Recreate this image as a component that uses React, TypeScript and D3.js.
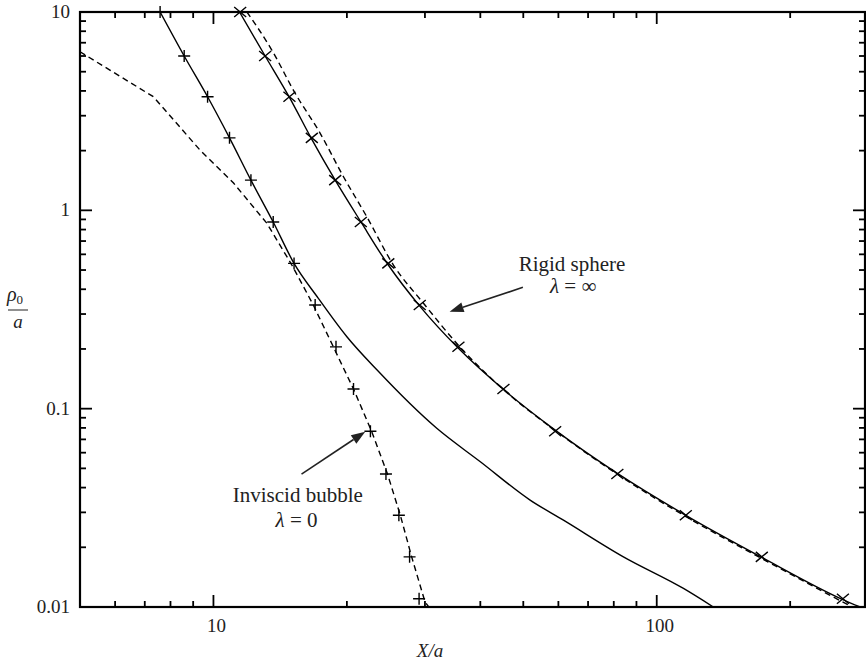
import * as d3 from "d3";
import React from "react";

// rho_0/a against X/a, log-log
const markerRho = [10, 6.0, 3.74, 2.32, 1.42, 0.873, 0.54, 0.333, 0.205, 0.1256, 0.077, 0.0468, 0.029, 0.0179, 0.011];

// inviscid bubble, symbols (+)
const bubbleSymX = [7.58, 8.59, 9.7, 10.87, 12.15, 13.64, 15.2, 16.96, 18.9, 20.7, 22.6, 24.5, 26.2, 27.7, 29.1];

// rigid sphere, symbols (x)
const sphereSymX = [11.49, 13.08, 14.84, 16.67, 18.82, 21.5, 24.8, 29.2, 35.7, 45.1, 59.0, 81.5, 116.3, 172.6, 263];

// solid curve, left family
const solidAX = [7.58, 8.59, 9.7, 10.87, 12.15, 13.64, 15.2, 17.23, 20.0, 23.4, 31.9, 40.0, 51.8, 61.6, 84.1, 114.9, 134.2];
const solidAY = [10, 6.0, 3.74, 2.32, 1.42, 0.873, 0.54, 0.361, 0.2305, 0.1565, 0.0796, 0.054, 0.0346, 0.0274, 0.0179, 0.0124, 0.01];

// dashed curve, left family
const dashedBX = [5.0, 7.32, 9.33, 11.1, 13.2, 15.03, 16.8, 18.8, 20.7, 22.76, 24.7, 26.4, 28.0, 30.0, 30.6];
const dashedBY = [6.3, 3.74, 2.01, 1.373, 0.86, 0.53, 0.333, 0.197, 0.1256, 0.0765, 0.0468, 0.029, 0.0179, 0.01063, 0.01];

// solid curve through rigid sphere symbols
const solidDX = [11.45, 13.08, 14.84, 16.67, 18.82, 21.5, 24.8, 29.2, 35.7, 45.1, 59.0, 81.5, 116.3, 172.6, 263, 287.6];
const solidDY = [10, 6.0, 3.71, 2.28, 1.42, 0.876, 0.53, 0.329, 0.2015, 0.125, 0.078, 0.0472, 0.029, 0.0178, 0.0109, 0.01];

// dashed curve next to the rigid sphere
const dashedEX = [11.9, 13.54, 15.29, 17.41, 19.65, 22.18, 25.47, 29.77, 36.0, 45.5, 59.6, 82.7, 117.8, 174.7, 275.8];
const dashedEY = [10, 6.43, 3.89, 2.445, 1.477, 0.928, 0.53, 0.34, 0.2044, 0.1227, 0.0764, 0.0457, 0.0281, 0.0173, 0.01];

const xMajor = [10, 100];
const xTickLabels = ["10", "100"];
const yMajor = [0.01, 0.1, 1, 10];
const yTickLabels = ["0.01", "0.1", "1", "10"];

const W = 866,
  H = 664;
const margin = { top: 12, right: 1, bottom: 57, left: 80 };
const FONT = '"Liberation Serif", "DejaVu Serif", serif';
const TXT = "#222";

const App = () => {
  const x = d3.scaleLog().domain([5, 295]).range([margin.left, W - margin.right]);
  const y = d3.scaleLog().domain([0.01, 10]).range([H - margin.bottom, margin.top]);
  const [x0, x1] = x.range();
  const [y0, y1] = y.range();

  const line = d3
    .line<[number, number]>()
    .x((d) => x(d[0]))
    .y((d) => y(d[1]));
  const smooth = d3
    .line<[number, number]>()
    .x((d) => x(d[0]))
    .y((d) => y(d[1]))
    .curve(d3.curveMonotoneX);
  const zip = (a: number[], b: number[]) => a.map((v, i) => [v, b[i]] as [number, number]);

  const isMajor = (v: number) => Math.abs(Math.log10(v) - Math.round(Math.log10(v))) < 1e-6;
  const xTicks = x.ticks().filter((v) => v > 5.001);
  const yTicks = y.ticks();

  const arrow = (from: [number, number], to: [number, number], key: string) => {
    const fx = x(from[0]),
      fy = y(from[1]),
      tx = x(to[0]),
      ty = y(to[1]);
    const ang = Math.atan2(ty - fy, tx - fx);
    const len = 14,
      half = 5;
    const bx = tx - len * Math.cos(ang),
      by = ty - len * Math.sin(ang);
    const px = -Math.sin(ang) * half,
      py = Math.cos(ang) * half;
    return (
      <g key={key}>
        <line x1={fx} y1={fy} x2={bx} y2={by} stroke={TXT} strokeWidth={1.6} />
        <polygon points={`${tx},${ty} ${bx + px},${by + py} ${bx - px},${by - py}`} fill={TXT} />
      </g>
    );
  };

  const plus = (cx: number, cy: number, i: number) => (
    <path key={i} d={`M${cx - 6},${cy}H${cx + 6}M${cx},${cy - 6}V${cy + 6}`} stroke="#000" strokeWidth={1.4} />
  );
  const cross = (cx: number, cy: number, i: number) => (
    <path
      key={i}
      d={`M${cx - 6},${cy - 5}L${cx + 6},${cy + 5}M${cx - 6},${cy + 5}L${cx + 6},${cy - 5}`}
      stroke="#000"
      strokeWidth={1.4}
    />
  );

  return (
    <svg
      width={W}
      height={H}
      style={{ position: "absolute", left: 0, top: 0, background: "#fff", fontFamily: FONT }}
    >
      <defs>
        <clipPath id="plot">
          <rect x={x0} y={y1} width={x1 - x0} height={y0 - y1} />
        </clipPath>
      </defs>

      <g clipPath="url(#plot)" fill="none">
        <path d={smooth(zip(solidAX, solidAY)) || ""} stroke="#000" strokeWidth={1.4} />
        <path d={line(zip(dashedBX, dashedBY)) || ""} stroke="#000" strokeWidth={1.4} strokeDasharray="6,4" />
        <path d={smooth(zip(solidDX, solidDY)) || ""} stroke="#000" strokeWidth={1.4} />
        <path d={smooth(zip(dashedEX, dashedEY)) || ""} stroke="#000" strokeWidth={1.4} strokeDasharray="6,4" />
      </g>
      <g fill="none">
        {bubbleSymX.map((v, i) => plus(x(v), y(markerRho[i]), i))}
        {sphereSymX.map((v, i) => cross(x(v), y(markerRho[i]), i))}
      </g>

      {/* ticks on all four sides, pointing inward */}
      <g stroke="#000" strokeWidth={1.8}>
        {xTicks.map((v) => {
          const l = isMajor(v) ? 12 : 6;
          return (
            <g key={"xt" + v}>
              <line x1={x(v)} x2={x(v)} y1={y0} y2={y0 - l} />
              <line x1={x(v)} x2={x(v)} y1={y1} y2={y1 + l} />
            </g>
          );
        })}
        {yTicks.map((v) => {
          const l = isMajor(v) ? 12 : 6;
          return (
            <g key={"yt" + v}>
              <line x1={x0} x2={x0 + l} y1={y(v)} y2={y(v)} />
              <line x1={x1} x2={x1 - l} y1={y(v)} y2={y(v)} />
            </g>
          );
        })}
      </g>
      <rect x={x0} y={y1} width={x1 - x0} height={y0 - y1} fill="none" stroke="#000" strokeWidth={2.2} />

      <g fontSize={19} fill={TXT} style={{ fontFamily: FONT }}>
        {xMajor.map((v, i) => (
          <text key={"xl" + v} x={x(v) + 3} y={y0 + 25} textAnchor="middle">
            {xTickLabels[i]}
          </text>
        ))}
        {yMajor.map((v, i) => (
          <text key={"yl" + v} x={x0 - 10} y={y(v) + 6} textAnchor="end">
            {yTickLabels[i]}
          </text>
        ))}
        <text x={430} y={657} textAnchor="middle" fontStyle="italic">
          X/a
        </text>
        <text x={7} y={301} fontSize={20}>
          <tspan fontStyle="italic">ρ</tspan>
          <tspan fontSize={13} dy={3}>
            0
          </tspan>
        </text>
        <line x1={8} x2={28} y1={310} y2={310} stroke={TXT} strokeWidth={1} />
        <text x={18} y={328} textAnchor="middle" fontStyle="italic" fontSize={19}>
          a
        </text>
      </g>
      <g fontSize={21} fill={TXT} style={{ fontFamily: FONT }}>
        <text x={x(15.5)} y={y(0.0338)} textAnchor="middle">
          Inviscid bubble
        </text>
        <text x={x(15.4)} y={y(0.0253)} textAnchor="middle">
          <tspan fontStyle="italic">λ</tspan> = 0
        </text>
        <text x={x(64.4)} y={y(0.494)} textAnchor="middle">
          Rigid sphere
        </text>
        <text x={x(64.8)} y={y(0.383)} textAnchor="middle">
          <tspan fontStyle="italic">λ</tspan> = ∞
        </text>
      </g>

      {arrow([15.8, 0.0468], [22.0, 0.0765], "a1")}
      {arrow([49.9, 0.409], [34.1, 0.308], "a2")}
    </svg>
  );
};

export default App;
